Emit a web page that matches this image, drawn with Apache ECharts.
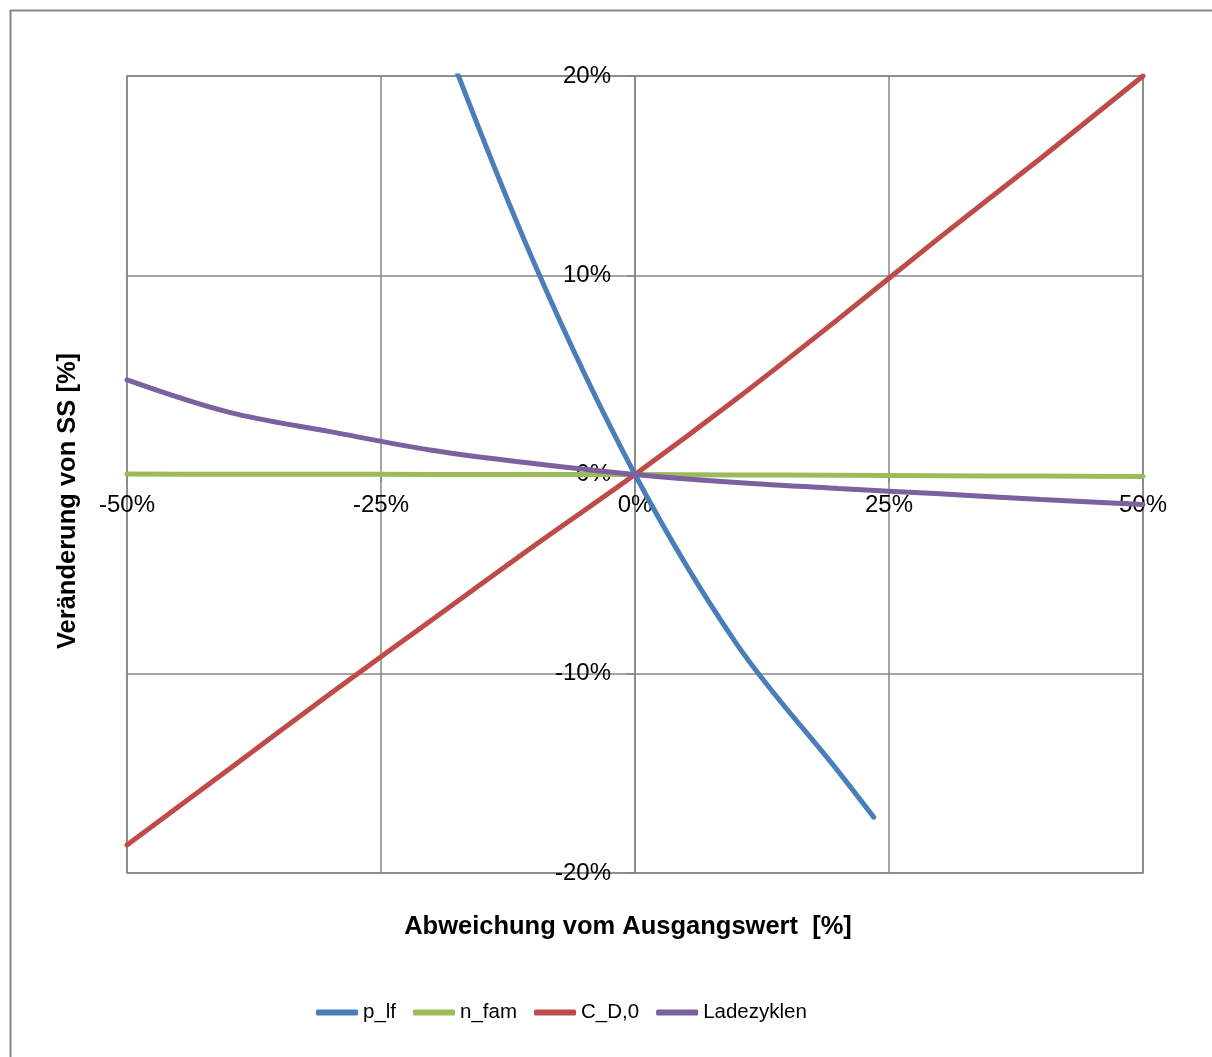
<!DOCTYPE html>
<html>
<head>
<meta charset="utf-8">
<script src="https://cdn.jsdelivr.net/npm/echarts@6/dist/echarts.min.js"></script>
<style>html,body{margin:0;padding:0;background:#fff}#c{width:1212px;height:1057px}</style>
</head>
<body>
<div id="c"></div>
<script>
// Abweichung vom Ausgangswert [%]
const xCommon = [-50, -40, -30, -20, -10, 0, 10, 20, 30, 40, 50];
const xPlf = [-20, -10, 0, 10, 20, 23.5];
// Veränderung von SS [%]
const pLf = [23.5, 10.7, 0, -8.5, -14.9, -17.2];
const nFam = [0.02, 0.015, 0.01, 0.005, 0.002, 0, -0.02, -0.04, -0.06, -0.08, -0.1];
const cD0 = [-18.6, -14.8, -11.0, -7.3, -3.6, 0, 3.8, 7.8, 11.9, 15.9, 20.0];
const ladezyklen = [4.75, 3.13, 2.15, 1.22, 0.55, 0, -0.4, -0.7, -0.97, -1.25, -1.5];
const seriesNames = ['p_lf', 'n_fam', 'C_D,0', 'Ladezyklen'];
const xTicks = { min: -50, max: 50, interval: 25 };
const yTicks = { min: -20, max: 20, interval: 10 };

const pair = (xs, ys) => xs.map((x, i) => [x, ys[i]]);
const colors = ['#4A7EBB', '#9BBB59', '#BE4B48', '#7D60A0'];
const FONT = '"Liberation Sans", Arial, sans-serif';
const GRAY = '#868686';

const W = 1212, H = 1057;
const G = { left: 127, right: 69, top: 76, bottom: 184 };
const plotW = W - G.left - G.right, plotH = H - G.top - G.bottom;
// shift axes so they cross at the zero point of the other axis
const xAxisOffset = -plotH * (0 - yTicks.min) / (yTicks.max - yTicks.min);
const yAxisOffset = -plotW * (0 - xTicks.min) / (xTicks.max - xTicks.min);

const chart = echarts.init(document.getElementById('c'), null, { renderer: 'canvas' });
const mk = (name, data, color) => ({
  name, type: 'line', data, symbol: 'none', smooth: 0.35,
  clip: true, lineStyle: { color, width: 5, cap: 'round' }, itemStyle: { color },
  emphasis: { disabled: true }, animation: false
});
chart.setOption({
  animation: false,
  backgroundColor: '#fff',
  grid: { left: G.left, right: G.right, top: G.top, bottom: G.bottom, show: true, borderColor: GRAY, borderWidth: 1.5 },
  xAxis: {
    type: 'value', position: 'bottom', offset: xAxisOffset,
    min: xTicks.min, max: xTicks.max, interval: xTicks.interval,
    axisLine: { onZero: false, lineStyle: { color: GRAY, width: 1.5 } },
    axisTick: { show: true, length: 8, lineStyle: { color: GRAY, width: 1.5 } },
    axisLabel: { formatter: v => v + '%', color: '#000', fontFamily: FONT, fontSize: 24, margin: 19 },
    splitLine: { show: true, lineStyle: { color: GRAY, width: 1.5 } }
  },
  yAxis: {
    type: 'value', position: 'left', offset: yAxisOffset,
    min: yTicks.min, max: yTicks.max, interval: yTicks.interval,
    axisLine: { show: true, onZero: false, lineStyle: { color: GRAY, width: 1.5 } },
    axisTick: { show: true, length: 8, lineStyle: { color: GRAY, width: 1.5 } },
    axisLabel: { formatter: v => v + '%', color: '#000', fontFamily: FONT, fontSize: 24, margin: 24 },
    splitLine: { show: true, lineStyle: { color: GRAY, width: 1.5 } }
  },
  legend: {
    left: 311, top: 997, itemWidth: 42, itemHeight: 6, itemGap: 17, icon: 'roundRect',
    textStyle: { color: '#000', fontFamily: FONT, fontSize: 20.5 },
    data: seriesNames
  },
  graphic: [
    { type: 'rect', left: 8, top: 8, silent: true, shape: { width: 1230, height: 1080 },
      style: { fill: 'none', stroke: GRAY, lineWidth: 2 } },
    { type: 'text', x: 628, y: 927, silent: true,
      style: { text: 'Abweichung vom Ausgangswert  [%]', font: 'bold 25.5px ' + FONT, fill: '#000',
        textAlign: 'center', textVerticalAlign: 'middle' } },
    { type: 'text', x: 68, y: 501, rotation: Math.PI / 2, silent: true,
      style: { text: 'Veränderung von SS [%]', font: 'bold 25.5px ' + FONT, fill: '#000',
        textAlign: 'center', textVerticalAlign: 'middle' } }
  ],
  series: [
    mk(seriesNames[0], pair(xPlf, pLf), colors[0]),
    mk(seriesNames[1], pair(xCommon, nFam), colors[1]),
    mk(seriesNames[2], pair(xCommon, cD0), colors[2]),
    mk(seriesNames[3], pair(xCommon, ladezyklen), colors[3])
  ]
});
</script>
</body>
</html>
